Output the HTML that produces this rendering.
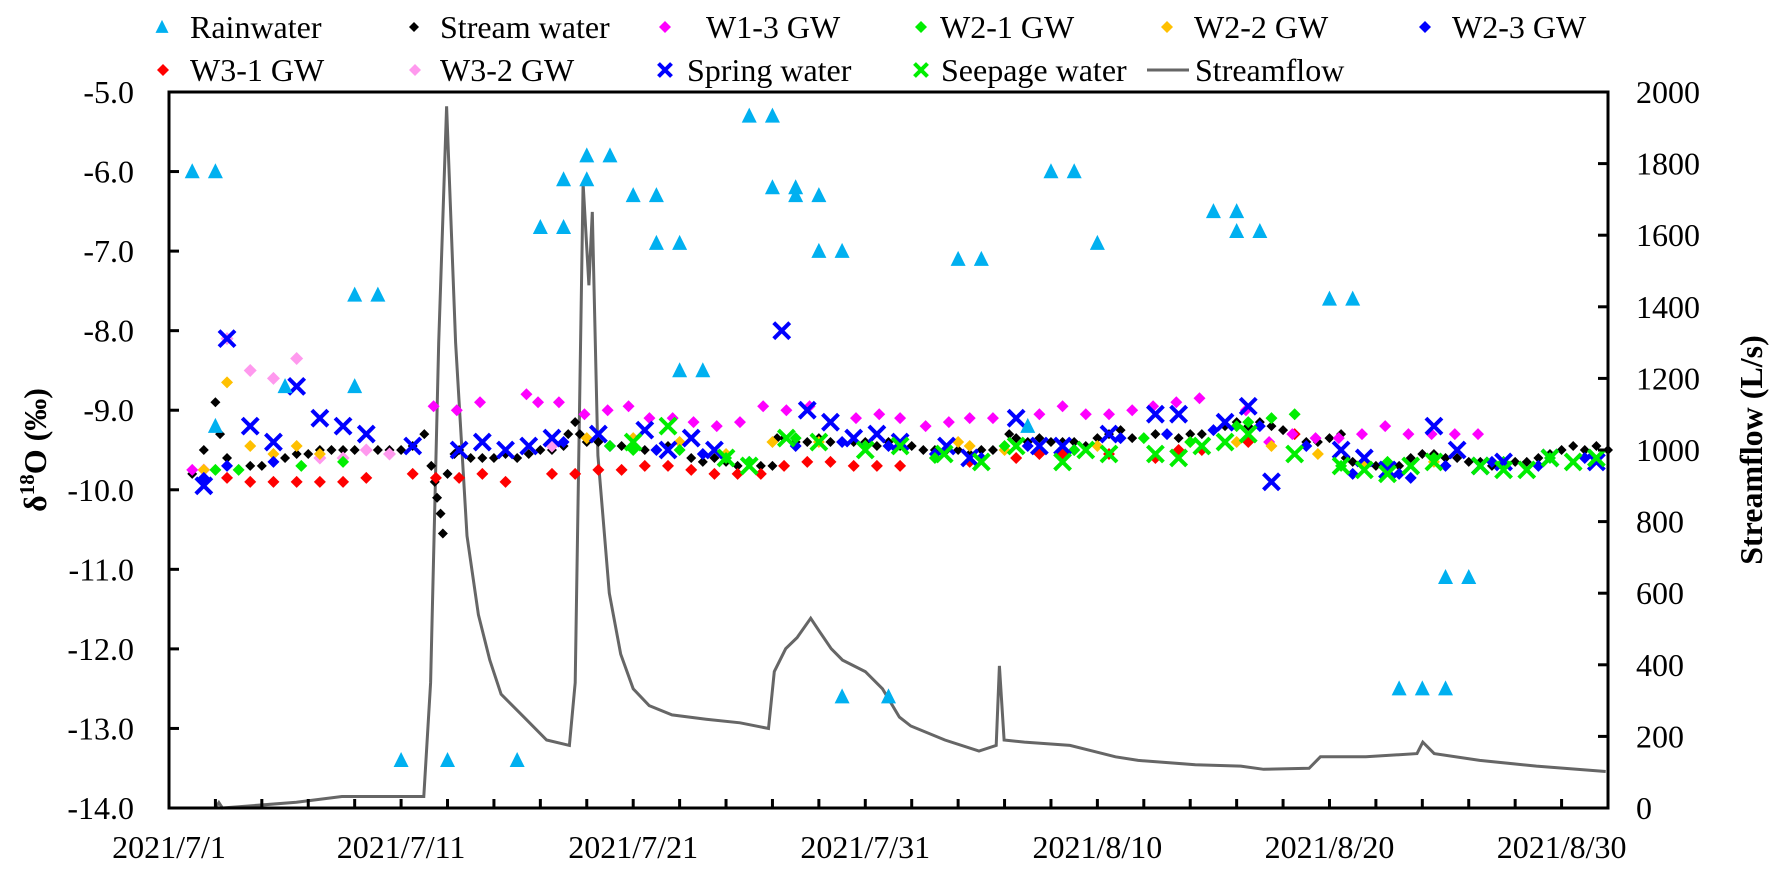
<!DOCTYPE html>
<html><head><meta charset="utf-8"><style>
html,body{margin:0;padding:0;background:#fff;}
svg{display:block;font-family:"Liberation Serif",serif;}
</style></head><body>
<svg id="chart" width="1785" height="875" viewBox="0 0 1785 875" xmlns="http://www.w3.org/2000/svg">
<g id="legend" font-size="32" fill="#000"></g>
<g id="marks"></g>
<g id="axes"></g>
<text transform="translate(46,450) rotate(-90)" text-anchor="middle" font-size="32" font-weight="bold">δ<tspan font-size="21" dy="-12">18</tspan><tspan dy="12">O (‰)</tspan></text>
<text transform="translate(1762,450) rotate(-90)" text-anchor="middle" font-size="32" font-weight="bold">Streamflow (L/s)</text>
</svg>
<script>
const xTickLabels=["2021/7/1","2021/7/11","2021/7/21","2021/7/31","2021/8/10","2021/8/20","2021/8/30"];
const xTickDays=[0,10,20,30,40,50,60];
const yTicksLeft=[-5,-6,-7,-8,-9,-10,-11,-12,-13,-14];
const yTicksRight=[0,200,400,600,800,1000,1200,1400,1600,1800,2000];

const rainDays=[1,2,2,5,8,9,8,10,12,15,16,17,17,18,18,19,20,21,21,22,22,23,25,26,26,27,27,28,28,29,29,31,34,35,37,38,39,40,45,46,46,47,50,51,53,54,55,55,56];
const rainVals=[-6.0,-6.0,-9.2,-8.7,-7.55,-7.55,-8.7,-13.4,-13.4,-13.4,-6.7,-6.7,-6.1,-6.1,-5.8,-5.8,-6.3,-6.3,-6.9,-6.9,-8.5,-8.5,-5.3,-5.3,-6.2,-6.2,-6.3,-6.3,-7.0,-7.0,-12.6,-12.6,-7.1,-7.1,-9.2,-6.0,-6.0,-6.9,-6.5,-6.5,-6.75,-6.75,-7.6,-7.6,-12.5,-12.5,-12.5,-11.1,-11.1];

const streamDays=[1,1.5,2,2.2,2.5,3,3.5,4,4.5,5,5.5,6,6.5,7,7.5,8,8.5,9,9.5,10,10.5,11,11.3,11.45,11.55,11.7,11.8,12,12.3,12.5,13,13.5,14,14.5,15,15.5,16,16.5,17,17.2,17.5,17.7,18,18.5,19,19.5,20,20.5,21,21.5,22,22.5,23,23.5,24,24.5,25,25.5,26,26.2,26.5,27,27.5,28,28.5,29,29.5,30,30.5,31,31.5,32,32.5,33,33.5,34,34.5,35,35.5,36,36.2,36.5,37,37.5,38,38.5,39,39.5,40,40.5,41,41.5,42,42.5,43,43.5,44,44.5,45,45.5,46,46.5,47,47.5,48,48.5,49,49.5,50,50.5,50.7,51,51.5,52,52.5,53,53.5,54,54.5,55,55.5,56,56.5,57,57.5,58,58.5,59,59.5,60,60.5,61,61.5,62];
const streamVals=[-9.8,-9.5,-8.9,-9.3,-9.6,-9.75,-9.7,-9.7,-9.55,-9.6,-9.55,-9.55,-9.5,-9.5,-9.5,-9.5,-9.5,-9.5,-9.5,-9.5,-9.45,-9.3,-9.7,-9.9,-10.1,-10.3,-10.55,-9.8,-9.55,-9.5,-9.6,-9.6,-9.6,-9.55,-9.6,-9.55,-9.5,-9.5,-9.45,-9.3,-9.15,-9.3,-9.4,-9.4,-9.45,-9.45,-9.45,-9.5,-9.5,-9.45,-9.5,-9.6,-9.65,-9.6,-9.65,-9.7,-9.65,-9.7,-9.7,-9.35,-9.35,-9.4,-9.4,-9.35,-9.4,-9.4,-9.4,-9.4,-9.45,-9.4,-9.45,-9.45,-9.5,-9.5,-9.5,-9.5,-9.55,-9.5,-9.5,-9.45,-9.3,-9.35,-9.4,-9.35,-9.4,-9.4,-9.4,-9.45,-9.35,-9.3,-9.25,-9.35,-9.35,-9.3,-9.3,-9.35,-9.3,-9.3,-9.25,-9.2,-9.15,-9.2,-9.15,-9.2,-9.25,-9.3,-9.4,-9.4,-9.35,-9.3,-9.6,-9.65,-9.7,-9.7,-9.65,-9.7,-9.6,-9.55,-9.55,-9.6,-9.6,-9.65,-9.65,-9.7,-9.7,-9.65,-9.65,-9.6,-9.55,-9.5,-9.45,-9.5,-9.45,-9.5];

const w13Days=[1,11.4,12.4,13.4,15.4,15.9,16.8,17.9,18.9,19.8,20.7,21.7,22.6,23.6,24.6,25.6,26.6,27.6,29.6,30.6,31.5,32.6,33.6,34.5,35.5,37.5,38.5,39.5,40.5,41.5,42.4,43.4,44.4,46.4,47.4,48.4,49.4,50.4,51.4,52.4,53.4,54.4,55.4,56.4];
const w13Vals=[-9.75,-8.95,-9.0,-8.9,-8.8,-8.9,-8.9,-9.05,-9.0,-8.95,-9.1,-9.1,-9.15,-9.2,-9.15,-8.95,-9.0,-8.95,-9.1,-9.05,-9.1,-9.2,-9.15,-9.1,-9.1,-9.05,-8.95,-9.05,-9.05,-9.0,-8.95,-8.9,-8.85,-9.0,-9.4,-9.3,-9.35,-9.35,-9.3,-9.2,-9.3,-9.3,-9.3,-9.3];
const w31Days=[1.5,2.5,3.5,4.5,5.5,6.5,7.5,8.5,10.5,11.5,12.5,13.5,14.5,16.5,17.5,18.5,19.5,20.5,21.5,22.5,23.5,24.5,25.5,26.5,27.5,28.5,29.5,30.5,31.5,34.5,36.5,37.5,38.5,40.5,42.5,43.5,44.5,46.5,48.5];
const w31Vals=[-9.9,-9.85,-9.9,-9.9,-9.9,-9.9,-9.9,-9.85,-9.8,-9.85,-9.85,-9.8,-9.9,-9.8,-9.8,-9.75,-9.75,-9.7,-9.7,-9.75,-9.8,-9.8,-9.8,-9.7,-9.65,-9.65,-9.7,-9.7,-9.7,-9.65,-9.6,-9.55,-9.55,-9.55,-9.6,-9.5,-9.5,-9.4,-9.3];
const w21Days=[2,3,5.7,7.5,19,20,22,24,25,27,30,33,36,39,42,44,46,46.5,47.5,48.5,50.5,52.5,54.5,57.5,59.5];
const w21Vals=[-9.75,-9.75,-9.7,-9.65,-9.45,-9.5,-9.5,-9.6,-9.65,-9.35,-9.45,-9.6,-9.45,-9.5,-9.35,-9.4,-9.2,-9.15,-9.1,-9.05,-9.7,-9.65,-9.6,-9.65,-9.6];
const w22Days=[1.5,2.5,3.5,4.5,5.5,6.5,18,20,22,24,26,28,30,34,34.5,36,40,44,46,47.5,49.5,51.5,54.5,57.5];
const w22Vals=[-9.75,-8.65,-9.45,-9.55,-9.45,-9.55,-9.35,-9.35,-9.4,-9.55,-9.4,-9.4,-9.45,-9.4,-9.45,-9.5,-9.45,-9.4,-9.4,-9.45,-9.55,-9.7,-9.65,-9.7];
const w23Days=[1.5,2.5,4.5,17,19,21,23,25,27,29,31,33,35,37,39,41,43,45,47,49,51,53,53.5,55,57,59,61];
const w23Vals=[-9.85,-9.7,-9.65,-9.4,-9.45,-9.5,-9.55,-9.65,-9.45,-9.4,-9.45,-9.55,-9.6,-9.45,-9.5,-9.35,-9.3,-9.25,-9.2,-9.45,-9.8,-9.8,-9.85,-9.7,-9.65,-9.7,-9.6];
const w32Days=[1.5,2.5,3.5,4.5,5.5,6.5,7.5,8.5,9.5,16.5];
const w32Vals=[-9.75,-8.1,-8.5,-8.6,-8.35,-9.6,-9.6,-9.5,-9.55,-9.45];
const springDays=[1.5,2.5,3.5,4.5,5.5,6.5,7.5,8.5,10.5,12.5,13.5,14.5,15.5,16.5,18.5,20.5,21.5,22.5,23.5,26.4,27.5,28.5,29.5,30.5,31.5,33.5,34.5,36.5,37.5,38.5,40.5,42.5,43.5,45.5,46.5,47.5,50.5,51.5,52.5,54.5,55.5,56.5,57.5,59.5,61.5];
const springVals=[-9.95,-8.1,-9.2,-9.4,-8.7,-9.1,-9.2,-9.3,-9.45,-9.5,-9.4,-9.5,-9.45,-9.35,-9.3,-9.25,-9.5,-9.35,-9.5,-8.0,-9.0,-9.15,-9.35,-9.3,-9.4,-9.45,-9.6,-9.1,-9.45,-9.45,-9.3,-9.05,-9.05,-9.15,-8.95,-9.9,-9.5,-9.6,-9.75,-9.2,-9.5,-9.7,-9.65,-9.6,-9.65];
const seepDays=[20,21.5,24,25,26.6,28,30,31.5,33.4,35,36.5,38.5,39.5,40.5,42.5,43.5,44.5,45.5,46.5,48.5,50.5,51.5,52.5,53.5,54.5,56.5,57.5,58.5,59.5,60.5,61.5];
const seepVals=[-9.4,-9.2,-9.6,-9.7,-9.35,-9.4,-9.5,-9.45,-9.55,-9.65,-9.45,-9.65,-9.5,-9.55,-9.55,-9.6,-9.45,-9.4,-9.3,-9.55,-9.7,-9.75,-9.8,-9.7,-9.65,-9.7,-9.75,-9.75,-9.6,-9.65,-9.6];

const flowDays=[0,2,2.15,2.3,5.49,7.45,10.98,11.27,11.62,11.96,12.35,12.84,13.33,13.82,14.31,15.29,16.27,17.25,17.5,17.84,18.09,18.24,18.48,18.97,19.46,20,20.69,21.67,23.14,24.6,25.83,26.08,26.57,27.06,27.65,28.04,28.53,29.02,30,30.74,31.47,31.96,33.43,34.9,35.64,35.78,35.98,36.86,38.82,39.8,40.78,41.76,44.22,46.18,47.16,49.12,49.61,51.57,53.77,54.02,54.51,56.47,58.92,61.9];
const flowVals=[0,0,15,0,16,32,32,350,1300,1960,1300,760,540,413,318,254,190,175,350,1745,1460,1665,985,600,430,333,286,260,248,238,222,381,445,476,530,492,445,413,381,333,254,229,190,159,175,397,190,184,175,159,143,133,121,117,108,111,143,143,152,184,152,133,117,102];

const SVGNS="http://www.w3.org/2000/svg";
const L=169,R=1608,T=92,B=808;
const X=d=>L+d*(R-L)/62;
const Y=v=>T+(-5-v)*(B-T)/9;
const YR=f=>B-f*(B-T)/2000;
function mk(tag,attrs,parent){const e=document.createElementNS(SVGNS,tag);for(const k in attrs)e.setAttribute(k,attrs[k]);parent.appendChild(e);return e;}
const marks=document.getElementById('marks'),axes=document.getElementById('axes'),legend=document.getElementById('legend');

function tri(g,x,y,s,c){return mk('polygon',{points:`${x},${y-s*0.55} ${x-s/2},${y+s*0.45} ${x+s/2},${y+s*0.45}`,fill:c},g);}
function dia(g,x,y,s,c){return mk('polygon',{points:`${x},${y-s/2} ${x+s/2},${y} ${x},${y+s/2} ${x-s/2},${y}`,fill:c},g);}
function cross(g,x,y,s,c){const h=s/2;return mk('path',{d:`M${x-h},${y-h}L${x+h},${y+h}M${x-h},${y+h}L${x+h},${y-h}`,stroke:c,'stroke-width':4,fill:'none'},g);}

// streamflow line
let dstr='';
for(let i=0;i<flowDays.length;i++){dstr+=(i?'L':'M')+X(flowDays[i]).toFixed(1)+','+YR(flowVals[i]).toFixed(1);}
const fl=mk('path',{d:dstr,stroke:'#666',"stroke-width":3,fill:'none'},marks);



function series(name,days,vals,fn,size,color){
  const g=mk('g',{},marks);
  
  
  for(let i=0;i<days.length;i++){
    const m=fn(g,X(days[i]),Y(vals[i]),size,color);
    
    
  }
}
series('stream-water',streamDays,streamVals,dia,10,'#000');
series('w3-1-gw',w31Days,w31Vals,dia,12,'#ff0000');
series('w3-2-gw',w32Days,w32Vals,dia,13,'#ff99ee');
series('w1-3-gw',w13Days,w13Vals,dia,12,'#ff00ff');
series('w2-2-gw',w22Days,w22Vals,dia,12,'#ffc000');
series('w2-3-gw',w23Days,w23Vals,dia,12,'#0000ff');
series('w2-1-gw',w21Days,w21Vals,dia,12,'#00ee00');
series('spring-water',springDays,springVals,cross,16,'#0000ff');
series('seepage-water',seepDays,seepVals,cross,16,'#00ee00');
series('rainwater',rainDays,rainVals,tri,15,'#00b0f0');

// frame
const fr=mk('rect',{x:L,y:T,width:R-L,height:B-T,fill:'none',stroke:'#000','stroke-width':3},axes);


yTicksLeft.forEach(v=>{
  mk('line',{x1:L,x2:L+10,y1:Y(v),y2:Y(v),stroke:'#000','stroke-width':3},axes);
  const t=mk('text',{x:134,y:Y(v)+11,'text-anchor':'end','font-size':32},axes);
  t.textContent=v.toFixed(1);
  
  
});
yTicksRight.forEach(f=>{
  mk('line',{x1:R-10,x2:R,y1:YR(f),y2:YR(f),stroke:'#000','stroke-width':3},axes);
  const t=mk('text',{x:1636,y:YR(f)+11,'text-anchor':'start','font-size':32},axes);
  t.textContent=f;
  
  
});
for(let d=2;d<62;d+=2){mk('line',{x1:X(d),x2:X(d),y1:B-9,y2:B,stroke:'#000','stroke-width':3},axes);}
xTickDays.forEach((d,i)=>{
  const t=mk('text',{x:X(d),y:858,'text-anchor':'middle','font-size':32},axes);
  t.textContent=xTickLabels[i];
  
  
});

// legend
const legItems=[
 ['Rainwater',tri,'#00b0f0',162,190,27,13],
 ['Stream water',dia,'#000',414,440,27,10],
 ['W1-3 GW',dia,'#ff00ff',665,706,27,12],
 ['W2-1 GW',dia,'#00ee00',921,940,27,12],
 ['W2-2 GW',dia,'#ffc000',1167,1194,27,12],
 ['W2-3 GW',dia,'#0000ff',1425,1452,27,12],
 ['W3-1 GW',dia,'#ff0000',163,190,70,12],
 ['W3-2 GW',dia,'#ff99ee',415,440,70,12],
 ['Spring water',cross,'#0000ff',665,687,70,13],
 ['Seepage water',cross,'#00ee00',921,941,70,13]
];
legItems.forEach(it=>{
  const g=mk('g',{},legend);
  
  
  it[1](g,it[3],it[5],it[6],it[2]);
  const t=mk('text',{x:it[4],y:it[5]+11},g);
  t.textContent=it[0];
});
const lg=mk('g',{},legend);


mk('line',{x1:1147,x2:1189,y1:70,y2:70,stroke:'#666','stroke-width':3},lg);
const lt=mk('text',{x:1195,y:81},lg);lt.textContent='Streamflow';
</script>
</body></html>
